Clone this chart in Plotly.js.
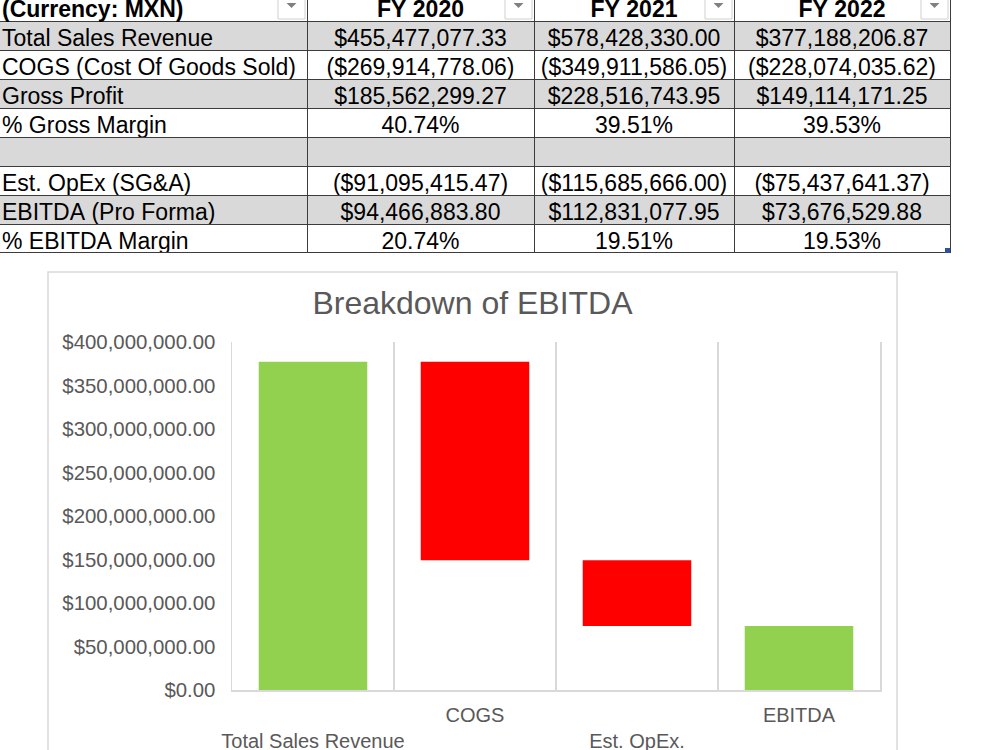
<!DOCTYPE html>
<html>
<head>
<meta charset="utf-8">
<script src="https://cdn.plot.ly/plotly-3.0.1.min.js"></script>
<style>
  html, body { margin:0; padding:0; background:#fff; overflow:hidden; }
  #chart { position:absolute; left:-6px; top:-8px; width:1006px; height:758px; }
</style>
</head>
<body>
<div id="chart"></div>
<script>
// ---- data ----
const headerLabel = "(Currency: MXN)";
const years = ["FY 2020", "FY 2021", "FY 2022"];
const rowLabels = ["Total Sales Revenue", "COGS (Cost Of Goods Sold)", "Gross Profit", "% Gross Margin", "", "Est. OpEx (SG&A)", "EBITDA (Pro Forma)", "% EBITDA Margin"];
const totalSalesRevenue = [455477077.33, 578428330.00, 377188206.87];
const cogs = [-269914778.06, -349911586.05, -228074035.62];
const grossProfit = [185562299.27, 228516743.95, 149114171.25];
const grossMarginPct = [40.74, 39.51, 39.53];
const estOpex = [-91095415.47, -115685666.00, -75437641.37];
const ebitda = [94466883.80, 112831077.95, 73676529.88];
const ebitdaMarginPct = [20.74, 19.51, 19.53];

const chartTitle = "Breakdown of EBITDA";
const chartCategories = ["Total Sales Revenue", "COGS", "Est. OpEx.", "EBITDA"];
const chartMeasures = ["absolute", "relative", "relative", "total"];
const chartYear = 2; // FY 2022
const chartValues = [totalSalesRevenue[chartYear], cogs[chartYear], estOpex[chartYear], ebitda[chartYear]];

// ---- helpers ----
const FONT = "Liberation Sans, Arial, sans-serif";
const SX = 6, SY = 8;           // div offset on page
const W = 1000 + SX, H = 750 + SY;
const px = x => (x + SX) / W;   // page pixel -> paper x
const py = y => 1 - (y + SY) / H; // page pixel -> paper y
const nb = s => s.replace(/ /g, "\u00a0"); // keep labels on one line

function money(v) {
  const s = "$" + Math.abs(v).toLocaleString("en-US", {minimumFractionDigits: 2, maximumFractionDigits: 2});
  return v < 0 ? "(" + s + ")" : s;
}
function pct(v) { return v.toFixed(2) + "%"; }

// the table treats "&" as markup and grows the row; render the "&..." part via suffix instead
const labelMain = rowLabels.map(s => nb(s.indexOf("&") >= 0 ? s.slice(0, s.indexOf("&")) : s));
const labelTail = rowLabels.map(s => nb(s.indexOf("&") >= 0 ? s.slice(s.indexOf("&")) : ""));

const columns = years.map((y, i) => [
  money(totalSalesRevenue[i]), money(cogs[i]), money(grossProfit[i]), pct(grossMarginPct[i]),
  "", money(estOpex[i]), money(ebitda[i]), pct(ebitdaMarginPct[i])
]);
const rowFill = rowLabels.map((_, i) => i % 2 === 0 ? "#d9d9d9" : "#ffffff");

const table = {
  type: "table",
  domain: {x: [0, px(950)], y: [py(253), 1]},
  columnwidth: [313, 227, 200, 216],
  header: {
    values: [headerLabel].concat(years).map(nb),
    align: ["left", "center", "center", "center"],
    height: 29,
    fill: {color: "#ffffff"},
    line: {color: "#3c3c3c", width: 1},
    font: {family: FONT, size: 23, color: "#000000", weight: "bold"}
  },
  cells: {
    values: [labelMain].concat(columns),
    suffix: [labelTail, "", "", ""],
    align: ["left", "center", "center", "center"],
    height: 29,
    fill: {color: [rowFill, rowFill, rowFill, rowFill]},
    line: {color: "#3c3c3c", width: 1},
    font: {family: FONT, size: 23, color: "#000000"}
  }
};

const waterfall = {
  type: "waterfall",
  x: chartCategories,
  y: chartValues,
  measure: chartMeasures,
  connector: {visible: false},
  totals: {marker: {color: "#92d050"}},
  increasing: {marker: {color: "#92d050"}},
  decreasing: {marker: {color: "#ff0000"}},
  xaxis: "x", yaxis: "y",
  hoverinfo: "skip"
};

// header filter buttons (pixel positions on page)
const buttons = [[278, 305], [505, 532], [705, 732], [921, 948]];
const shapes = [];
buttons.forEach(b => {
  shapes.push({type: "rect", xref: "paper", yref: "paper",
    x0: px(b[0]), x1: px(b[1]), y0: py(19), y1: py(-8),
    fillcolor: "#ffffff", line: {color: "#d0d0d0", width: 1}});
  const cx = (b[0] + b[1]) / 2;
  shapes.push({type: "path", xref: "paper", yref: "paper",
    path: `M ${px(cx - 5)} ${py(3)} L ${px(cx + 5)} ${py(3)} L ${px(cx)} ${py(8)} Z`,
    fillcolor: "#808080", line: {width: 0}});
});
// table bottom border and resize handle
shapes.push({type: "line", xref: "paper", yref: "paper",
  x0: px(0), x1: px(950), y0: py(252.5), y1: py(252.5),
  line: {color: "#3c3c3c", width: 1}});
shapes.push({type: "rect", xref: "paper", yref: "paper",
  x0: px(945), x1: px(950), y0: py(253), y1: py(248),
  fillcolor: "#3050a0", line: {width: 0}});
// chart area border
shapes.push({type: "rect", xref: "paper", yref: "paper", layer: "below",
  x0: px(48), x1: px(897), y0: py(272), y1: -0.05,
  fillcolor: "rgba(0,0,0,0)", line: {color: "#d9d9d9", width: 1.5}});

const layout = {
  width: W, height: H,
  margin: {l: 0, r: 0, t: 0, b: 0},
  paper_bgcolor: "#ffffff",
  plot_bgcolor: "#ffffff",
  showlegend: false,
  font: {family: FONT, color: "#595959"},
  title: {text: chartTitle, font: {family: FONT, size: 32, color: "#595959"},
    x: px(472.5), xref: "paper", xanchor: "center", y: py(303), yref: "paper", yanchor: "middle"},
  waterfallgap: 0.33,
  xaxis: {
    domain: [px(232), px(880)],
    type: "category",
    tickson: "boundaries",
    showgrid: true, gridcolor: "#d9d9d9", gridwidth: 1.5,
    showline: true, linecolor: "#d9d9d9", linewidth: 1.5,
    ticks: "",
    tickangle: 0,
    ticklabelstandoff: 6,
    tickmode: "array",
    tickvals: chartCategories,
    ticktext: chartCategories.map((c, i) => i % 2 === 0 ? "<br>" + c : c),
    tickfont: {family: FONT, size: 20, color: "#595959"},
    fixedrange: true
  },
  yaxis: {
    domain: [py(690), py(342)],
    range: [0, 400000000],
    dtick: 50000000,
    tickformat: "$,.2f",
    showgrid: false, zeroline: false,
    showline: true, mirror: true, linecolor: "#d9d9d9", linewidth: 1.5,
    ticks: "",
    ticklabelstandoff: 11,
    tickfont: {family: FONT, size: 20.4, color: "#595959"},
    fixedrange: true
  },
  shapes: shapes
};

Plotly.newPlot("chart", [table, waterfall], layout, {staticPlot: true, displayModeBar: false});
</script>
</body>
</html>
